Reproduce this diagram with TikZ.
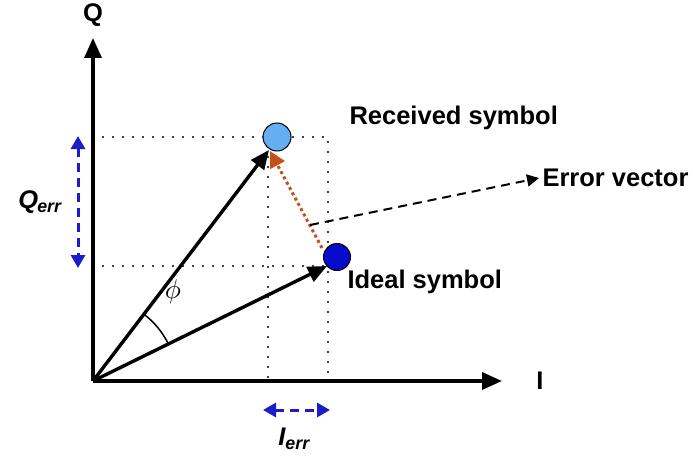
\documentclass[tikz,border=0pt]{standalone}
\usepackage{fontspec}
\setmainfont{Liberation Sans}
\usetikzlibrary{arrows.meta,positioning,calc}
\definecolor{rxblue}{HTML}{66AEF2}
\definecolor{idblue}{HTML}{0A0ACC}
\definecolor{errblue}{HTML}{1C1CC8}
\definecolor{errred}{HTML}{C4501C}
\tikzset{
  axis/.style={-{Triangle[length=20pt,width=17pt]},line width=3.4pt},
  vec/.style={-{Triangle[length=19pt,width=16pt]},line width=3.4pt},
  proj/.style={line width=2.4pt,line cap=round,dash pattern=on 0pt off 10pt},
  sym/.style={circle,draw,line width=1pt,minimum size=28pt,inner sep=0pt},
  errarr/.style={{Triangle[length=13pt,width=14pt]}-{Triangle[length=13pt,width=14pt]},errblue,line width=3pt,dash pattern=on 9pt off 6pt},
  lbl/.style={font=\fontsize{25.5}{28}\selectfont\bfseries}
}
\begin{document}
\begin{tikzpicture}[x=1pt,y=1pt]
  \useasboundingbox (0,0) rectangle (693,459);
  % Origin and axes
  \coordinate (O) at (93,78);
  \coordinate (qend) at (93,421);
  \coordinate (iend) at (502,78);
  \draw[axis] (O) -- (qend);
  \draw[axis] (O) -- (iend);
  \node[lbl] (qlbl) at (93,444) {Q};
  \node[lbl] (ilbl) at (540,78) {I};

  % Projections
  \coordinate (rxq) at (93,322);
  \coordinate (rxi) at (268,78);
  \coordinate (idq) at (93,193);
  \coordinate (idi) at (328,78);
  \coordinate (cor) at (328,322);
  \draw[proj] (rxq) -- (cor) -- (idi);
  \draw[proj] (idq) -- (328,193);
  \draw[proj] (268,312) -- (rxi);

  % Symbols
  \node[sym,fill=rxblue] (rxsym) at (277,322) {};
  \node[sym,fill=idblue,minimum size=27pt] (idsym) at (337,202) {};
  \node[lbl,anchor=west] (rxlbl) at (346,341) {Received symbol};
  \node[lbl,anchor=west] (idlbl) at (344,177) {Ideal symbol};

  % Vectors
  \draw[vec] (O) -- (269,309);
  \draw[vec] (O) -- (327,193);
  \draw[-{Triangle[length=16pt,width=16pt]},errred,line width=3pt,dash pattern=on 3pt off 3pt] (322,211) -- (270,308);

  % Phase angle
  \draw[line width=1.5pt] ($(O)+(26:84)$) arc (26:53:84);
  \node (phi) at (173,167) {\scalebox{2.7}{$\phi$}};

  % Error vector
  \coordinate (evs) at (310,234);
  \node[lbl,anchor=west] (evlbl) at (539,281) {Error vector};
  \draw[-{Triangle[length=12pt,width=12pt]},line width=2pt,dash pattern=on 9pt off 6pt] (evs) -- (evlbl.west);

  % Error components
  \node[lbl] (qerr) at (40,257) {\itshape Q\kern-1pt\textsubscript{err}};
  \draw[errarr] (78,323) -- (78,191);
  \node[lbl] (ierr) at (294,20) {\itshape I\textsubscript{err}};
  \draw[errarr] (263,49) -- (330,49);
\end{tikzpicture}
\end{document}
